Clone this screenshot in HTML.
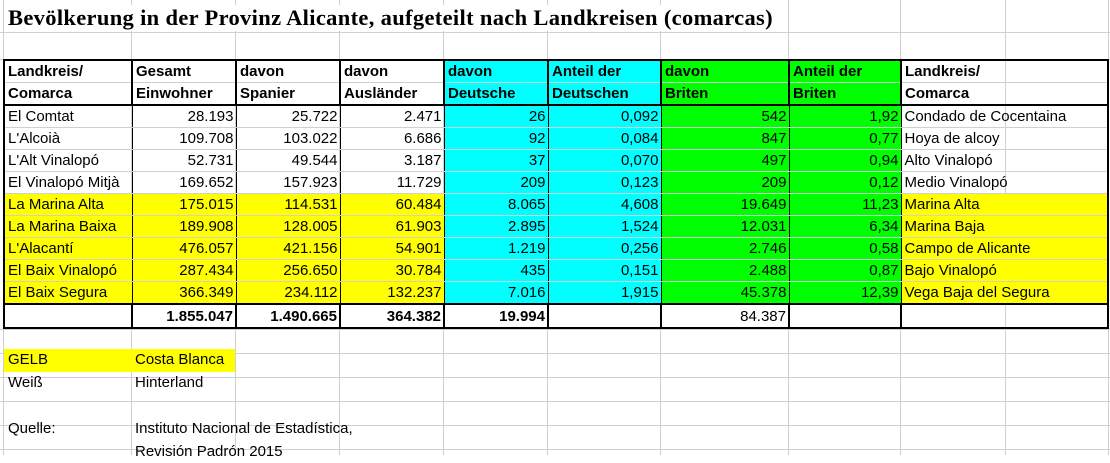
<!DOCTYPE html>
<html><head><meta charset="utf-8"><style>
body{margin:0;width:1110px;height:455px;background:#fff;overflow:hidden;position:relative;font-family:"Liberation Sans",Arial,sans-serif;font-size:15px;color:#000}
.v{position:absolute;top:0;height:455px;width:1px;background:#d0d0d0}
.h{position:absolute;left:0;width:1110px;height:1px;background:#d0d0d0}
.title{position:absolute;left:8px;top:5px;font-family:"Liberation Serif",serif;font-weight:bold;font-size:22.5px;letter-spacing:0.33px;background:#fff;padding-right:6px;white-space:nowrap}
table{position:absolute;left:3px;top:59px;border-collapse:collapse;table-layout:fixed}
td{height:21px;padding:0 2px 0 3px;border-left:1px solid #000;border-right:1px solid #000;border-top:1px solid #d0d0d0;border-bottom:1px solid #d0d0d0;white-space:nowrap;overflow:hidden;line-height:21px}
td.r{text-align:right}
tr.hd td{font-weight:bold;border-left:2px solid #000;border-right:2px solid #000}
tr.h1 td{border-top:2px solid #000}
tr.h2 td{border-bottom:2px solid #000}
tr.last td{border-bottom:2px solid #000}
tr.tot td{border-bottom:2px solid #000;border-left:2px solid #000;border-right:2px solid #000;font-weight:bold;height:22px}
td.first{border-left:2px solid #000}
td.end{border-right:2px solid #000}
.y{background:#ffff00;border-top-color:#ffff00 !important}
.c{background:#00ffff;border-top-color:#00ffff !important}
.g{background:#00ff00;border-top-color:#00ff00 !important}
tr.h1 .y,tr.h1 .c,tr.h1 .g{border-top-color:#000 !important}
.t{position:absolute;line-height:22px;white-space:nowrap}
</style></head><body>
<div class="v" style="left:3px"></div><div class="v" style="left:131px"></div><div class="v" style="left:235px"></div><div class="v" style="left:339px"></div><div class="v" style="left:443px"></div><div class="v" style="left:547px"></div><div class="v" style="left:660px"></div><div class="v" style="left:788px"></div><div class="v" style="left:900px"></div><div class="v" style="left:1005px"></div><div class="v" style="left:1108px"></div>
<div class="h" style="top:32px"></div><div class="h" style="top:59px"></div><div class="h" style="top:329px"></div><div class="h" style="top:353px"></div><div class="h" style="top:377px"></div><div class="h" style="top:401px"></div><div class="h" style="top:425px"></div><div class="h" style="top:449px"></div>
<div class="title">Bevölkerung in der Provinz Alicante, aufgeteilt nach Landkreisen (comarcas)</div>
<table>
<colgroup><col style="width:128px"><col style="width:104px"><col style="width:104px"><col style="width:104px"><col style="width:104px"><col style="width:113px"><col style="width:128px"><col style="width:112px"><col style="width:207px"></colgroup>
<tr class="hd h1"><td>Landkreis/</td><td>Gesamt</td><td>davon</td><td>davon</td><td class="c">davon</td><td class="c">Anteil der</td><td class="g">davon</td><td class="g">Anteil der</td><td>Landkreis/</td></tr>
<tr class="hd h2"><td>Comarca</td><td>Einwohner</td><td>Spanier</td><td>Ausländer</td><td class="c">Deutsche</td><td class="c">Deutschen</td><td class="g">Briten</td><td class="g">Briten</td><td>Comarca</td></tr>
<tr><td class="first">El Comtat</td><td class="r">28.193</td><td class="r">25.722</td><td class="r">2.471</td><td class="r c">26</td><td class="r c">0,092</td><td class="r g">542</td><td class="r g">1,92</td><td class="end">Condado de Cocentaina</td></tr>
<tr><td class="first">L'Alcoià</td><td class="r">109.708</td><td class="r">103.022</td><td class="r">6.686</td><td class="r c">92</td><td class="r c">0,084</td><td class="r g">847</td><td class="r g">0,77</td><td class="end">Hoya de alcoy</td></tr>
<tr><td class="first">L'Alt Vinalopó</td><td class="r">52.731</td><td class="r">49.544</td><td class="r">3.187</td><td class="r c">37</td><td class="r c">0,070</td><td class="r g">497</td><td class="r g">0,94</td><td class="end">Alto Vinalopó</td></tr>
<tr><td class="first">El Vinalopó Mitjà</td><td class="r">169.652</td><td class="r">157.923</td><td class="r">11.729</td><td class="r c">209</td><td class="r c">0,123</td><td class="r g">209</td><td class="r g">0,12</td><td class="end">Medio Vinalopó</td></tr>
<tr><td class="y first">La Marina Alta</td><td class="r y">175.015</td><td class="r y">114.531</td><td class="r y">60.484</td><td class="r c">8.065</td><td class="r c">4,608</td><td class="r g">19.649</td><td class="r g">11,23</td><td class="y end">Marina Alta</td></tr>
<tr><td class="y first">La Marina Baixa</td><td class="r y">189.908</td><td class="r y">128.005</td><td class="r y">61.903</td><td class="r c">2.895</td><td class="r c">1,524</td><td class="r g">12.031</td><td class="r g">6,34</td><td class="y end">Marina Baja</td></tr>
<tr><td class="y first">L'Alacantí</td><td class="r y">476.057</td><td class="r y">421.156</td><td class="r y">54.901</td><td class="r c">1.219</td><td class="r c">0,256</td><td class="r g">2.746</td><td class="r g">0,58</td><td class="y end">Campo de Alicante</td></tr>
<tr><td class="y first">El Baix Vinalopó</td><td class="r y">287.434</td><td class="r y">256.650</td><td class="r y">30.784</td><td class="r c">435</td><td class="r c">0,151</td><td class="r g">2.488</td><td class="r g">0,87</td><td class="y end">Bajo Vinalopó</td></tr>
<tr class="last"><td class="y first">El Baix Segura</td><td class="r y">366.349</td><td class="r y">234.112</td><td class="r y">132.237</td><td class="r c">7.016</td><td class="r c">1,915</td><td class="r g">45.378</td><td class="r g">12,39</td><td class="y end">Vega Baja del Segura</td></tr>
<tr class="tot"><td></td><td class="r">1.855.047</td><td class="r">1.490.665</td><td class="r">364.382</td><td class="r">19.994</td><td></td><td class="r" style="font-weight:normal">84.387</td><td></td><td></td></tr>
</table>
<div style="position:absolute;left:4px;top:349px;width:231px;height:23px;background:#ffff00"></div>
<div class="t" style="left:8px;top:349px">GELB</div><div class="t" style="left:135px;top:349px">Costa Blanca</div>
<div class="t" style="left:8px;top:372px">Weiß</div><div class="t" style="left:135px;top:372px">Hinterland</div>
<div class="t" style="left:8px;top:418px">Quelle:</div><div class="t" style="left:135px;top:418px">Instituto Nacional de Estadística,</div>
<div class="t" style="left:135px;top:441px">Revisión Padrón 2015</div>
</body></html>
